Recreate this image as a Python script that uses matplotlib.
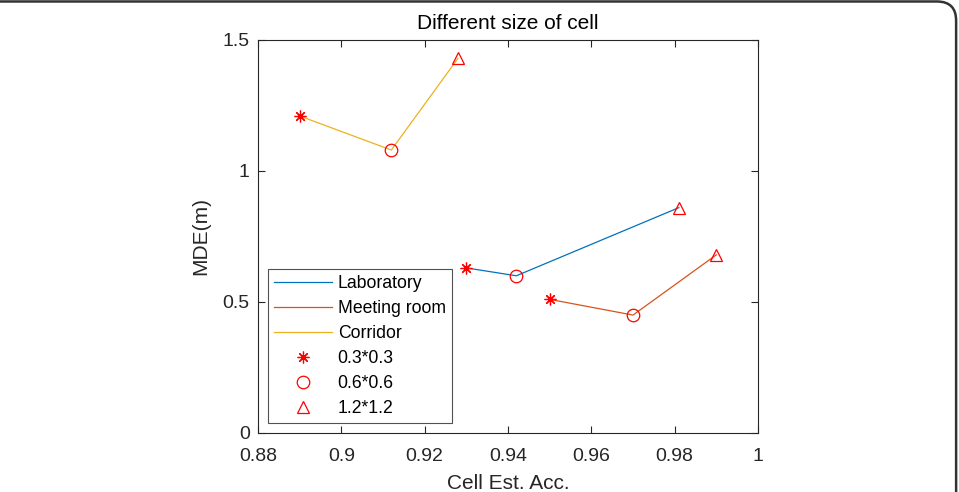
import matplotlib.pyplot as plt
from matplotlib.patches import FancyBboxPatch

plt.rcParams['font.family'] = ['Liberation Sans', 'DejaVu Sans']

sizes = ['0.3*0.3', '0.6*0.6', '1.2*1.2']
markers = [(8, 2, 0), 'o', '^']
rooms = ['Laboratory', 'Meeting room', 'Corridor']
acc = {
    'Laboratory': [0.93, 0.942, 0.981],
    'Meeting room': [0.95, 0.97, 0.99],
    'Corridor': [0.89, 0.912, 0.928],
}
mde = {
    'Laboratory': [0.63, 0.60, 0.86],
    'Meeting room': [0.51, 0.45, 0.68],
    'Corridor': [1.21, 1.08, 1.43],
}
colors = ['#0072BD', '#D95319', '#EDB120']

fig = plt.figure(figsize=(9.59, 4.92), dpi=100)
ax = fig.add_axes([0.269, 0.12, 0.5214, 0.7987])

for room, c in zip(rooms, colors):
    ax.plot(acc[room], mde[room], color=c, lw=0.9, label=room)

for i, (s, m) in enumerate(zip(sizes, markers)):
    xs = [acc[r][i] for r in rooms]
    ys = [mde[r][i] for r in rooms]
    ax.plot(xs, ys, ls='none', marker=m, color='red', mfc='none',
            ms=8.5 if i == 0 else 9, mew=0.9, label=s)

ax.set_xlim(0.88, 1)
ax.set_ylim(0, 1.5)
ax.set_xticks([0.88, 0.9, 0.92, 0.94, 0.96, 0.98, 1])
ax.set_xticklabels(['0.88', '0.9', '0.92', '0.94', '0.96', '0.98', '1'])
ax.set_yticks([0, 0.5, 1, 1.5])
ax.set_yticklabels(['0', '0.5', '1', '1.5'])
ax.tick_params(direction='in', labelsize=14, colors='#262626', length=5, top=True, right=True)
ax.tick_params(axis='x', pad=10.5)
ax.tick_params(axis='y', pad=6)
for sp in ax.spines.values():
    sp.set_color('#262626')
    sp.set_linewidth(0.8)
ax.set_title('Different size of cell', fontsize=15, color='black', pad=8)
ax.set_xlabel('Cell Est. Acc.', fontsize=15, color='#262626', labelpad=7)
ax.set_ylabel('MDE(m)', fontsize=15, color='#262626', labelpad=9)

leg = ax.legend(loc='lower left', bbox_to_anchor=(0.02, 0.025), fontsize=12.7,
                frameon=True, fancybox=False, handlelength=3.3, borderaxespad=0,
                labelspacing=0.45, handletextpad=0.3, borderpad=0.35)
leg.get_frame().set_edgecolor('#262626')
leg.get_frame().set_linewidth(0.8)

frame = FancyBboxPatch((-0.05, -0.2), 1.047, 1.197, boxstyle='round,pad=0,rounding_size=0.02',
                       transform=fig.transFigure, fill=False, ec='#333333', lw=1.8,
                       clip_on=False, mutation_aspect=959/492)
fig.patches.append(frame)

fig.savefig('out.png', dpi=100)
